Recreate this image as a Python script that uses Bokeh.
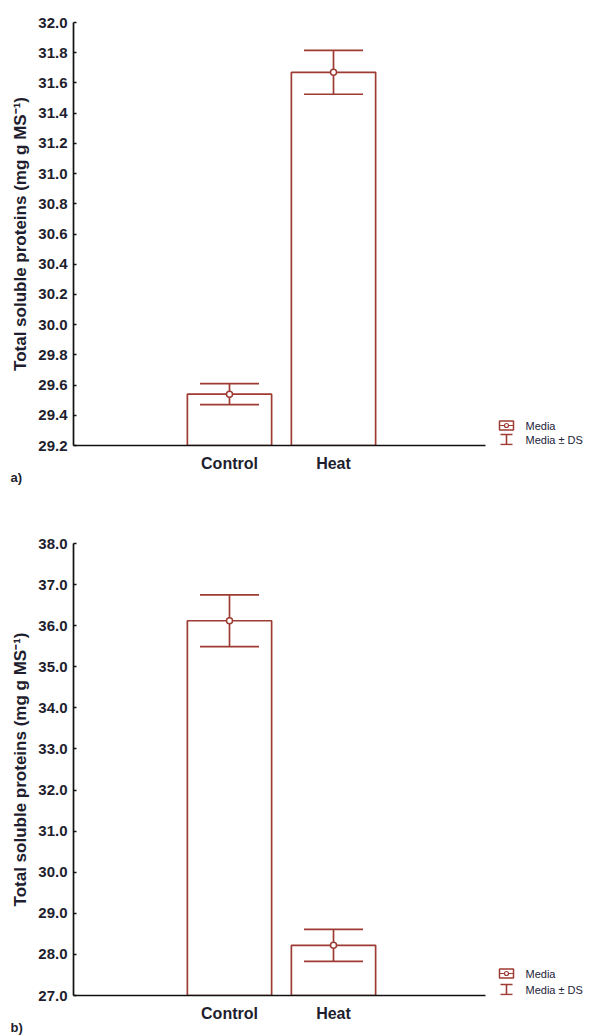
from bokeh.plotting import figure
from bokeh.layouts import column
from bokeh.models import Range1d, FixedTicker, Label, ColumnDataSource, Whisker, TeeHead, PrintfTickFormatter, Title
from bokeh.embed import file_html
from bokeh.resources import INLINE

# ---- data ----
categories = ["Control", "Heat"]
means_a = [29.54, 31.67]
sd_a = [0.07, 0.145]
means_b = [36.12, 28.22]
sd_b = [0.63, 0.39]
ticks_a = [29.2, 29.4, 29.6, 29.8, 30.0, 30.2, 30.4, 30.6, 30.8, 31.0, 31.2, 31.4, 31.6, 31.8, 32.0]
ticks_b = [27.0, 28.0, 29.0, 30.0, 31.0, 32.0, 33.0, 34.0, 35.0, 36.0, 37.0, 38.0]
legend_labels = ["Media", "Media \u00b1 DS"]
panel_letters = ["a)", "b)"]
y_title = "Total soluble proteins (mg g MS\u207b\u00b9)"

RED = "#9e3b33"
TXT = "#1e1e2e"
FONT = "Liberation Sans"

FRAME_W = 514
PX_PER_X = 104.0
X_LEFT = -0.5


def make_panel(means, sds, ticks, frame_h, top, bottom, letter, leg_up):
    y0, y1 = ticks[0], ticks[-1]
    ypp = (y1 - y0) / frame_h  # data units per pixel

    def xd(px):
        return X_LEFT + px / PX_PER_X

    def yd(up):
        return y0 + up * ypp

    x_right = X_LEFT + FRAME_W / PX_PER_X
    p = figure(frame_width=FRAME_W, frame_height=frame_h,
               x_range=Range1d(X_LEFT, x_right), y_range=Range1d(y0, y1),
               output_backend="svg", toolbar_location=None,
               min_border_left=73, min_border_right=8,
               min_border_top=top, min_border_bottom=bottom)
    p.outline_line_color = None
    p.grid.visible = False
    p.background_fill_color = "white"

    xs = [1, 2]
    src = ColumnDataSource(dict(x=xs, top=means,
                                upper=[m + s for m, s in zip(means, sds)],
                                lower=[m - s for m, s in zip(means, sds)]))

    w = Whisker(source=src, base="x", upper="upper", lower="lower",
                line_color=RED, line_width=1.7, level="underlay",
                upper_head=TeeHead(size=59, line_color=RED, line_width=1.7),
                lower_head=TeeHead(size=59, line_color=RED, line_width=1.7))
    p.add_layout(w)

    p.vbar(x="x", top="top", bottom=y0, width=0.81, source=src,
           fill_alpha=0, line_color=RED, line_width=1.7)
    p.scatter(x="x", y="top", source=src, size=6, marker="circle",
              fill_color="white", line_color=RED, line_width=1.5)

    # x axis
    p.xaxis.ticker = FixedTicker(ticks=xs)
    p.xaxis.major_label_overrides = {1: categories[0], 2: categories[1]}
    p.xaxis.bounds = (X_LEFT, xd(412))
    p.xaxis.axis_line_color = "#111111"
    p.xaxis.axis_line_width = 1.7
    p.xaxis.major_tick_line_color = None
    p.xaxis.minor_tick_line_color = None
    p.xaxis.major_label_standoff = 3
    p.xaxis.major_label_text_font = FONT
    p.xaxis.major_label_text_font_style = "bold"
    p.xaxis.major_label_text_font_size = "16px"
    p.xaxis.major_label_text_color = TXT

    # y axis
    p.yaxis.ticker = FixedTicker(ticks=ticks)
    p.yaxis.formatter = PrintfTickFormatter(format="%.1f")
    p.yaxis.axis_line_color = "#111111"
    p.yaxis.axis_line_width = 1.7
    p.yaxis.major_tick_in = 3
    p.yaxis.major_tick_out = 0
    p.yaxis.major_tick_line_color = "#111111"
    p.yaxis.major_tick_line_width = 1.5
    p.yaxis.minor_tick_line_color = None
    p.yaxis.major_label_standoff = 6
    p.yaxis.major_label_text_font = FONT
    p.yaxis.major_label_text_font_style = "bold"
    p.yaxis.major_label_text_font_size = "15px"
    p.yaxis.major_label_text_color = TXT
    p.yaxis.axis_label = y_title
    p.yaxis.axis_label_standoff = 5
    p.yaxis.axis_label_text_font = FONT
    p.yaxis.axis_label_text_font_style = "bold"
    p.yaxis.axis_label_text_font_size = "17px"
    p.yaxis.axis_label_text_color = TXT

    # legend (manual)
    icon_l, icon_r, icon_c = xd(426), xd(440), xd(433)
    up1, up2 = leg_up
    p.rect(x=icon_c, y=yd(up1), width=14 / PX_PER_X, height=9 * ypp,
           fill_alpha=0, line_color=RED, line_width=1.5)
    p.segment(x0=icon_l, y0=yd(up1), x1=icon_r, y1=yd(up1), line_color=RED, line_width=1.2)
    p.scatter(x=icon_c, y=yd(up1), size=4, marker="circle", fill_color="white",
              line_color=RED, line_width=1.2)
    iw = Whisker(source=ColumnDataSource(dict(b=[icon_c], u=[yd(up2 + 5)], l=[yd(up2 - 5)])),
                 base="b", upper="u", lower="l", line_color=RED, line_width=1.6,
                 upper_head=TeeHead(size=12, line_color=RED, line_width=1.6),
                 lower_head=TeeHead(size=12, line_color=RED, line_width=1.6))
    p.add_layout(iw)
    for txt, up in zip(legend_labels, (up1, up2)):
        p.add_layout(Label(x=xd(452), y=yd(up), text=txt, text_font=FONT,
                           text_font_size="11px", text_color="#22223a",
                           text_baseline="middle", text_align="left"))

    # panel letter
    t = Title(text=letter, align="left", offset=-63, standoff=-20,
              text_font=FONT, text_font_style="bold", text_font_size="13px",
              text_color=TXT)
    p.add_layout(t, "below")
    return p


pa = make_panel(means_a, sd_a, ticks_a, 423, 22, 75, panel_letters[0], (20, 6))
pb = make_panel(means_b, sd_b, ticks_b, 452, 23, 46, panel_letters[1], (22, 6))

layout = column(pa, pb, spacing=0)
open("out.html", "w").write(file_html(layout, INLINE))
